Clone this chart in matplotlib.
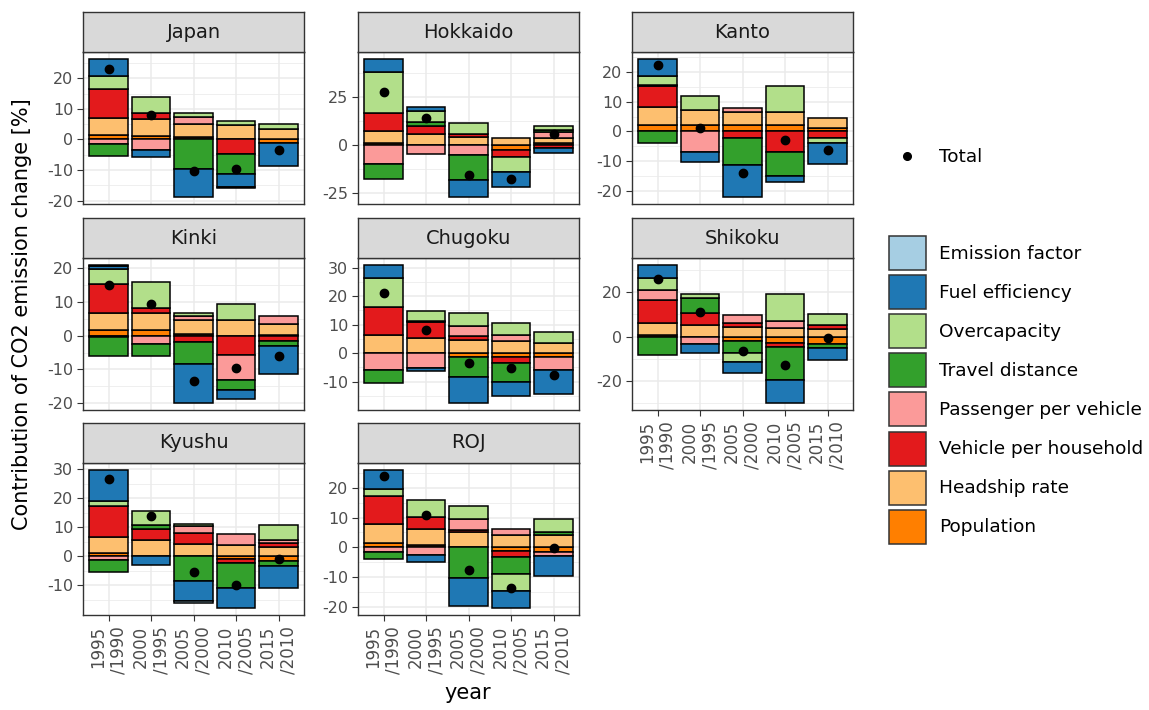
import numpy as np
import matplotlib
matplotlib.use("Agg")
import matplotlib.pyplot as plt
from matplotlib.patches import Patch
from matplotlib.lines import Line2D
from matplotlib.ticker import FixedLocator

# ---- data -------------------------------------------------------------
periods = ["1995\n/1990", "2000\n/1995", "2005\n/2000", "2010\n/2005", "2015\n/2010"]
factors = ["Emission factor", "Fuel efficiency", "Overcapacity", "Travel distance",
           "Passenger per vehicle", "Vehicle per household", "Headship rate", "Population"]
colors = ["#A6CEE3", "#1F78B4", "#B2DF8A", "#33A02C",
          "#FB9A99", "#E31A1C", "#FDBF6F", "#FF7F00"]
regions = ["Japan", "Hokkaido", "Kanto", "Kinki", "Chugoku", "Shikoku", "Kyushu", "ROJ"]

# rows follow the factor order above, columns follow periods
japan = [[0, 0, 0, -0.3, 0],
         [5.7, -2.5, -9.1, -4.1, -7.8],
         [4.1, 5.1, 1.5, 1.2, 1.5],
         [-4.0, 0, -9.7, -6.7, 0],
         [-1.5, -3.3, 2.2, 0, 0],
         [9.5, 1.9, 0, -4.6, 0],
         [5.5, 5.6, 4.4, 4.8, 3.5],
         [1.5, 1.2, 0.7, 0, -1.0]]
hokkaido = [[0, 0, 0, 0, 0],
            [7.0, 1.9, -8.7, -7.9, -2.9],
            [21.4, 5.5, 5.8, -7.9, 2.2],
            [-7.5, 2.1, -13.4, 0, 1.0],
            [-10.2, -5.0, -5.3, 0, 3.0],
            [9.5, 4.4, 1.8, -3.6, -1.5],
            [6.2, 5.7, 3.9, 3.5, 2.5],
            [0.9, 0, 0, -2.6, 1.0]]
kanto = [[0, 0, 0, 0, 0],
         [5.9, -3.4, -10.9, -2.1, -7.3],
         [3.0, 4.5, 0, 8.6, -1.6],
         [-4.0, 0, -9.1, -8.3, 0],
         [0.3, -6.8, 1.3, 0, 0],
         [7.1, 0, -2.2, -6.8, -2.2],
         [6.0, 5.2, 4.5, 4.5, 3.5],
         [2.2, 2.2, 2.2, 2.2, 1.0]]
kinki = [[0.3, 0, 0, 0, 0],
         [1.0, 0, -11.6, -2.6, -8.1],
         [4.4, 7.6, 1.0, 4.7, 0],
         [-5.4, -3.5, -6.4, -3.0, -1.5],
         [-0.5, -2.4, 1.0, -7.4, 2.2],
         [8.4, 1.4, -1.9, -5.6, -1.7],
         [5.2, 5.2, 4.2, 4.5, 3.2],
         [1.5, 1.5, 0.5, 0, 0.3]]
chugoku = [[0, 0, 0, 0, 0],
           [4.7, -1.2, -9.1, -5.0, -8.4],
           [9.9, 3.5, 4.4, 4.1, 4.1],
           [-4.7, 0.4, -7.2, -6.6, 0],
           [-5.8, -5.2, 3.5, 2.0, -4.6],
           [10.0, 5.5, 1.5, -2.0, 0],
           [6.4, 5.3, 4.7, 4.4, 3.5],
           [0, 0, -1.2, -1.4, -1.4]]
shikoku = [[0, 0, 0, 0, 0],
           [6.0, -4.2, -4.8, -10.2, -5.2],
           [5.4, 1.8, -4.1, 12.0, 4.6],
           [-8.2, 6.8, -5.3, -15.2, -1.8],
           [4.2, -3.3, 3.5, 3.5, 0],
           [10.4, 5.2, 1.5, -1.5, 2.0],
           [5.5, 5.2, 4.5, 3.7, 3.4],
           [0.7, 0, -2.2, -3.0, -3.4]]
kyushu = [[0, 0, -0.8, 0, 0],
          [10.8, -2.8, -6.7, -6.9, -7.5],
          [1.6, 4.9, 0.7, 0, 5.1],
          [-4.1, 1.4, -8.6, -8.6, -1.8],
          [-1.1, 0, 2.4, 3.6, 1.2],
          [10.7, 3.8, 3.8, -1.3, 1.2],
          [5.4, 5.4, 3.9, 4.0, 3.4],
          [1.3, 0.3, 0.3, -1.0, -1.5]]
roj = [[0, 0, 0, 0, 0],
       [6.6, -2.6, -9.5, -5.7, -6.7],
       [2.2, 5.7, 4.5, -5.7, 4.3],
       [-2.5, 0, -10.4, -5.7, 1.0],
       [-1.5, -2.5, 3.8, 1.8, -1.5],
       [9.6, 3.8, 0.6, -2.1, 0],
       [6.1, 5.5, 4.9, 4.3, 4.2],
       [1.6, 0.8, 0.2, -1.3, -1.5]]

total_japan = [22.9, 8.1, -10.2, -9.7, -3.4]
total_hokkaido = [27.6, 14.1, -15.9, -17.7, 5.6]
total_kanto = [22.3, 1.1, -14.2, -2.8, -6.4]
total_kinki = [14.8, 9.4, -13.5, -9.6, -6.1]
total_chugoku = [21.0, 8.2, -3.5, -5.3, -7.6]
total_shikoku = [25.7, 11.2, -6.7, -12.7, -0.7]
total_kyushu = [26.6, 13.9, -5.2, -9.8, -0.8]
total_roj = [23.9, 10.8, -7.5, -13.8, -0.1]

yticks_japan = [-20, -10, 0, 10, 20]
yticks_hokkaido = [-25, 0, 25]
yticks_kanto = [-20, -10, 0, 10, 20]
yticks_kinki = [-20, -10, 0, 10, 20]
yticks_chugoku = [-10, 0, 10, 20, 30]
yticks_shikoku = [-20, 0, 20]
yticks_kyushu = [-10, 0, 10, 20, 30]
yticks_roj = [-20, -10, 0, 10, 20]

contrib = [japan, hokkaido, kanto, kinki, chugoku, shikoku, kyushu, roj]
totals = [total_japan, total_hokkaido, total_kanto, total_kinki,
          total_chugoku, total_shikoku, total_kyushu, total_roj]
yticks = [yticks_japan, yticks_hokkaido, yticks_kanto, yticks_kinki,
          yticks_chugoku, yticks_shikoku, yticks_kyushu, yticks_roj]

# ---- layout (pixels) ----------------------------------------------------
W, H = 1149, 710
fig = plt.figure(figsize=(W / 100, H / 100), dpi=100)
col_left = [83, 358, 632]
pw = 221
strip_top = [12, 218, 423]
strip_h = 40
panel_h = 152
# panels that carry the x axis labels
bottom_panels = {"Kyushu", "ROJ", "Shikoku"}

x = np.arange(len(periods))

for i, name in enumerate(regions):
    r, c = divmod(i, 3)
    left = col_left[c] / W
    ptop = strip_top[r] + strip_h
    ax = fig.add_axes([left, 1 - (ptop + panel_h) / H, pw / W, panel_h / H])
    st = fig.add_axes([left, 1 - ptop / H, pw / W, strip_h / H])

    vals = np.array(contrib[i], dtype=float)
    pos_base = np.zeros(len(x))
    neg_base = np.zeros(len(x))
    for k in reversed(range(len(factors))):
        v = vals[k]
        m = v > 0
        if m.any():
            ax.bar(x[m], v[m], bottom=pos_base[m], width=0.9, color=colors[k],
                   edgecolor="black", linewidth=1.1, zorder=2)
        pos_base[m] += v[m]
        m = v < 0
        if m.any():
            ax.bar(x[m], v[m], bottom=neg_base[m], width=0.9, color=colors[k],
                   edgecolor="black", linewidth=1.1, zorder=2)
        neg_base[m] += v[m]
    ax.plot(x, totals[i], "o", color="black", ms=6, zorder=3)

    lo = min(neg_base.min(), min(totals[i]))
    hi = max(pos_base.max(), max(totals[i]))
    rng = hi - lo
    ax.set_ylim(lo - 0.05 * rng, hi + 0.05 * rng)
    ax.set_xlim(-0.6, len(x) - 0.4)

    yt = yticks[i]
    step = yt[1] - yt[0]
    ax.set_yticks(yt)
    ax.set_yticklabels([str(t) for t in yt])
    minors = [yt[0] - step / 2] + [t + step / 2 for t in yt]
    ax.yaxis.set_minor_locator(FixedLocator(minors))
    ax.set_xticks(x)
    ax.set_axisbelow(True)
    ax.grid(which="major", color="#EBEBEB", linewidth=1.1, zorder=0)
    ax.grid(which="minor", axis="y", color="#EBEBEB", linewidth=0.55, zorder=0)
    ax.tick_params(which="minor", length=0)
    ax.tick_params(axis="y", colors="#333333", labelcolor="#4D4D4D",
                   labelsize=11.5, length=4, width=0.8, pad=3)
    if name in bottom_panels:
        ax.set_xticklabels(periods, rotation=90, ha="center", va="top",
                           multialignment="right")
        ax.tick_params(axis="x", colors="#333333", labelcolor="#4D4D4D",
                       labelsize=12, length=4, width=0.8, pad=4)
    else:
        ax.set_xticklabels([])
        ax.tick_params(axis="x", length=0)
    for s in ax.spines.values():
        s.set_color("#333333")
        s.set_linewidth(1.0)

    st.set_facecolor("#D9D9D9")
    st.set_xticks([])
    st.set_yticks([])
    for s in st.spines.values():
        s.set_color("#333333")
        s.set_linewidth(1.0)
    st.text(0.5, 0.5, name, ha="center", va="center", fontsize=14,
            color="#1A1A1A", transform=st.transAxes)

fig.text(22 / W, 1 - 314 / H, "Contribution of CO2 emission change [%]",
         rotation=90, ha="center", va="center", fontsize=15)
fig.text(468 / W, 1 - 693 / H, "year", ha="center", va="center", fontsize=15)

# ---- legends ---------------------------------------------------------------
dot = [Line2D([], [], marker="o", color="black", linestyle="none", markersize=5.5)]
fig.legend(handles=dot, labels=["Total"], loc="center left",
           bbox_to_anchor=(889 / W, 1 - 157 / H), frameon=False, fontsize=13.3,
           handlelength=2.0, handletextpad=0.72, borderpad=0, borderaxespad=0)

keys = [Patch(facecolor=col, edgecolor="#333333", linewidth=1.1) for col in colors]
fig.legend(handles=keys, labels=factors, loc="upper left",
           bbox_to_anchor=(889 / W, 1 - 236 / H), frameon=False, fontsize=13.3,
           handlelength=2.0, handleheight=2.45, labelspacing=0.28,
           handletextpad=0.72, borderpad=0, borderaxespad=0)

fig.savefig("out.png", dpi=100)
